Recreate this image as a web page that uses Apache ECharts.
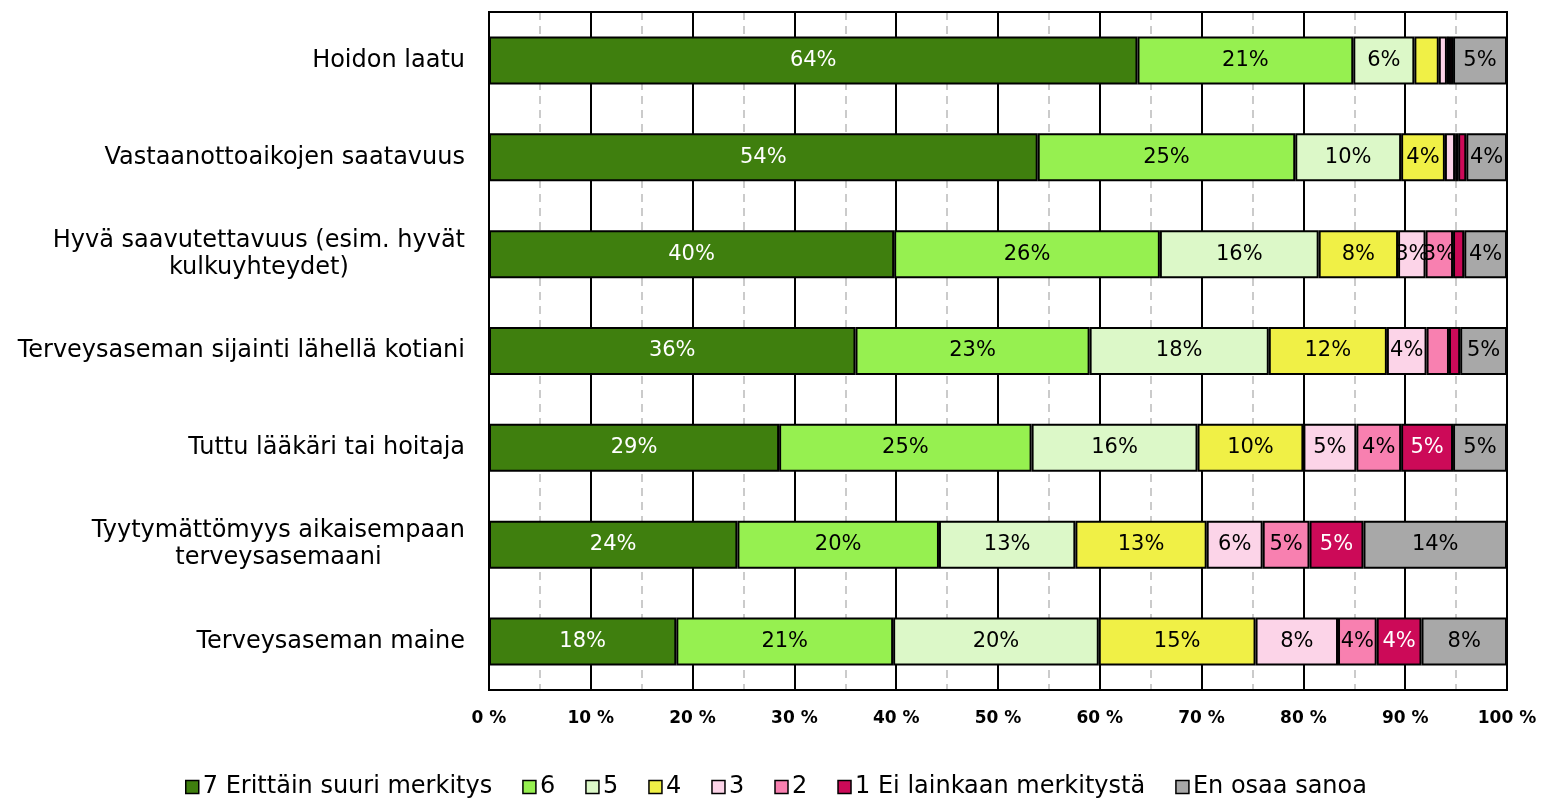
<!DOCTYPE html>
<html>
<head>
<meta charset="utf-8">
<script src="https://cdn.jsdelivr.net/npm/echarts@6/dist/echarts.min.js"></script>
<style>
  html, body { margin: 0; padding: 0; background: #fff; }
  #chart { width: 1550px; height: 799px; }
</style>
</head>
<body>
<div id="chart"></div>
<script>
const categories = [
  'Hoidon laatu',
  'Vastaanottoaikojen saatavuus',
  'Hyvä saavutettavuus (esim. hyvät\nkulkuyhteydet)',
  'Terveysaseman sijainti lähellä kotiani',
  'Tuttu lääkäri tai hoitaja',
  'Tyytymättömyys aikaisempaan\nterveysasemaani',
  'Terveysaseman maine',
];
const seriesNames = ['7 Erittäin suuri merkitys', '6', '5', '4', '3', '2', '1 Ei lainkaan merkitystä', 'En osaa sanoa'];
const colors = ['#3f7f0e', '#96f050', '#dcf8c8', '#f0f046', '#fcd4e8', '#f880b0', '#cc0a58', '#a8a8a8'];
const labelColors = ['#fff', '#000', '#000', '#000', '#000', '#000', '#fff', '#000'];

const v7 = [63.7, 53.9, 39.8, 36.0, 28.5, 24.4, 18.4];
const v6 = [21.2, 25.3, 26.1, 23.0, 24.8, 19.8, 21.3];
const v5 = [6.0, 10.4, 15.6, 17.6, 16.3, 13.4, 20.2];
const v4 = [2.4, 4.3, 7.8, 11.6, 10.4, 12.9, 15.4];
const v3 = [0.8, 1.0, 2.7, 3.9, 5.2, 5.5, 8.1];
const v2 = [0.2, 0.3, 2.7, 2.2, 4.4, 4.6, 3.8];
const v1 = [0.4, 0.8, 1.1, 1.1, 5.1, 5.3, 4.4];
const vEos = [5.3, 4.0, 4.2, 4.6, 5.3, 14.1, 8.4];
const values = [v7, v6, v5, v4, v3, v2, v1, vEos];

const FONT = 'DejaVu Sans';

const chart = echarts.init(document.getElementById('chart'));

const series = seriesNames.map((name, i) => ({
  name,
  type: 'bar',
  stack: 'total',
  barWidth: 48,
  data: values[i],
  itemStyle: {
    color: colors[i],
    borderColor: '#000',
    borderWidth: 2,
  },
  label: {
    show: true,
    position: 'inside',
    color: labelColors[i],
    fontFamily: FONT,
    fontSize: 21,
    formatter: ({ value }) => (value >= 2.5 ? Math.round(value) + '%' : ''),
  },
}));

chart.setOption({
  animation: false,
  textStyle: { fontFamily: FONT },
  grid: {
    left: 489,
    right: 43,
    top: 12,
    bottom: 109,
    show: true,
    borderColor: '#000',
    borderWidth: 2,
    z: 10,
  },
  legend: {
    data: seriesNames,
    bottom: -5,
    left: 180,
    itemWidth: 13,
    itemHeight: 13,
    itemGap: 30,
    icon: 'rect',
    itemStyle: { borderColor: '#000', borderWidth: 1.5 },
    textStyle: { fontFamily: FONT, fontSize: 24, color: '#000', padding: [0, 0, 0, -1] },
  },
  xAxis: {
    type: 'value',
    min: 0,
    max: 100,
    interval: 10,
    axisLine: { show: true, lineStyle: { color: '#000', width: 2 } },
    axisTick: { show: false },
    axisLabel: {
      margin: 20,
      color: '#000',
      fontFamily: FONT,
      fontSize: 17,
      fontWeight: 'bold',
      formatter: '{value} %',
    },
    splitLine: { show: true, lineStyle: { color: '#000', width: 2 } },
    minorTick: { show: false, splitNumber: 2 },
    minorSplitLine: { show: true, lineStyle: { color: '#bbb', width: 1.5, type: [8, 6] } },
  },
  yAxis: {
    type: 'category',
    inverse: true,
    data: categories,
    axisLine: { show: true, lineStyle: { color: '#000', width: 2 } },
    axisTick: { show: false },
    axisLabel: {
      margin: 24,
      color: '#000',
      fontFamily: FONT,
      fontSize: 24,
      lineHeight: 27,
      formatter: value => value.split('\n').map(line => '{c|' + line + '}').join('\n'),
      rich: {
        c: { align: 'center', fontFamily: FONT, fontSize: 24, lineHeight: 27, color: '#000' },
      },
    },
  },
  series,
});
</script>
</body>
</html>
